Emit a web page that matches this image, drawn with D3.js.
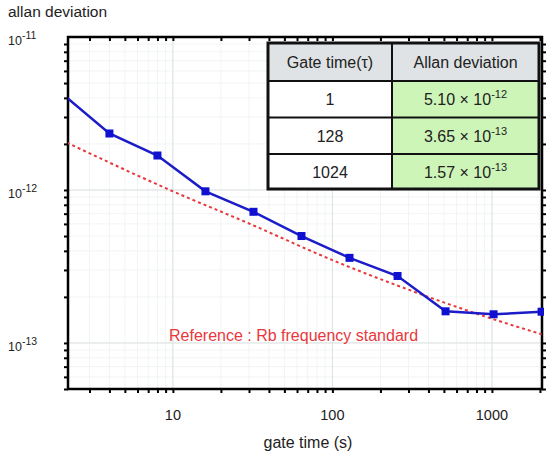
<!DOCTYPE html>
<html>
<head>
<meta charset="utf-8">
<script src="https://cdn.jsdelivr.net/npm/d3@7"></script>
<style>
  body { margin: 0; background: #fff; }
  text { font-family: "Liberation Sans", Arial, sans-serif; }
</style>
</head>
<body>
<div id="chart"></div>
<script>
// measured allan deviation (gate time in s)
var gateTimes = [2, 4, 8, 16, 32, 64, 128, 256, 512, 1024, 2048];
var allanDev = [4.3e-12, 2.34e-12, 1.68e-12, 9.8e-13, 7.2e-13, 5.0e-13, 3.6e-13, 2.74e-13, 1.61e-13, 1.54e-13, 1.60e-13];

// Rb reference curve
var refTimes = [2, 10, 30, 100, 300, 1000, 2048];
var refDev = [2.12e-12, 9.8e-13, 6.04e-13, 3.48e-13, 2.23e-13, 1.44e-13, 1.14e-13];

// table contents
var tableHeader = ["Gate time(\u03c4)", "Allan deviation"];
var tableTau = ["1", "128", "1024"];
var tableMant = ["5.10", "3.65", "1.57"];
var tableExp = ["-12", "-13", "-13"];

var xMajor = [10, 100, 1000];
var yMajor = [1e-11, 1e-12, 1e-13];
var yExpLabels = ["-11", "-12", "-13"];

var width = 546, height = 457;
var pL = 68, pR = 542, pT = 37, pB = 389;

var svg = d3.select('#chart').append('svg')
  .attr('width', width).attr('height', height);

var x = d3.scaleLog().domain([2.2, 2060]).range([pL, pR]);
var y = d3.scaleLog().domain([5e-14, 1e-11]).range([pB, pT]);

// minor tick values
var xMinor = [];
[1, 10, 100, 1000].forEach(function(d) {
  for (var k = 1; k < 10; k++) {
    var v = d * k;
    if (v >= 2.2 && v <= 2060) xMinor.push(v);
  }
});
var yMinor = [];
[1e-14, 1e-13, 1e-12].forEach(function(d) {
  for (var k = 1; k < 10; k++) {
    var v = d * k;
    if (v >= 5e-14 && v <= 1e-11) yMinor.push(v);
  }
});

// faint minor grid
var grid = svg.append('g');
grid.selectAll('line.xm').data(xMinor).enter().append('line')
  .attr('x1', x).attr('x2', x).attr('y1', pT).attr('y2', pB)
  .attr('stroke', '#f2f4f4').attr('stroke-width', 1);
grid.selectAll('line.ym').data(yMinor).enter().append('line')
  .attr('y1', y).attr('y2', y).attr('x1', pL).attr('x2', pR)
  .attr('stroke', '#f2f4f4').attr('stroke-width', 1);
// major grid
grid.selectAll('line.xg').data(xMajor).enter().append('line')
  .attr('x1', x).attr('x2', x).attr('y1', pT).attr('y2', pB)
  .attr('stroke', '#dde2e2').attr('stroke-width', 1);
grid.selectAll('line.yg').data(yMajor.slice(1)).enter().append('line')
  .attr('y1', y).attr('y2', y).attr('x1', pL).attr('x2', pR)
  .attr('stroke', '#dde2e2').attr('stroke-width', 1);

// axes with minor ticks
var tickFmt = function() { return ''; };
function styleAxis(g) {
  g.select('.domain').remove();
  g.selectAll('line').attr('stroke-width', 2);
}
svg.append('g').attr('transform', 'translate(0,' + pB + ')')
  .call(d3.axisBottom(x).tickValues(xMinor).tickSize(4).tickFormat(tickFmt)).call(styleAxis);
svg.append('g').attr('transform', 'translate(0,' + pT + ')')
  .call(d3.axisBottom(x).tickValues(xMinor).tickSize(4).tickFormat(tickFmt)).call(styleAxis);
svg.append('g').attr('transform', 'translate(' + pL + ',0)')
  .call(d3.axisLeft(y).tickValues(yMinor).tickSize(4).tickFormat(tickFmt)).call(styleAxis);
svg.append('g').attr('transform', 'translate(' + pR + ',0)')
  .call(d3.axisRight(y).tickValues(yMinor).tickSize(4).tickFormat(tickFmt)).call(styleAxis);

// frame
svg.append('rect').attr('x', pL).attr('y', pT)
  .attr('width', pR - pL).attr('height', pB - pT)
  .attr('fill', 'none').attr('stroke', '#000').attr('stroke-width', 2.5);

// clip
svg.append('clipPath').attr('id', 'clip').append('rect')
  .attr('x', pL).attr('y', pT).attr('width', pR - pL + 2).attr('height', pB - pT);

var plot = svg.append('g').attr('clip-path', 'url(#clip)');

// reference curve
plot.append('path')
  .datum(refTimes.map(function(t, i) { return [t, refDev[i]]; }))
  .attr('d', d3.line().curve(d3.curveMonotoneX)
    .x(function(d) { return x(d[0]); }).y(function(d) { return y(d[1]); }))
  .attr('fill', 'none').attr('stroke', '#e8383d').attr('stroke-width', 2)
  .attr('stroke-dasharray', '3,3');

// measured line
var meas = gateTimes.map(function(t, i) { return [t, allanDev[i]]; });
plot.append('path')
  .datum(meas)
  .attr('d', d3.line().x(function(d) { return x(d[0]); }).y(function(d) { return y(d[1]); }))
  .attr('fill', 'none').attr('stroke', '#1c1cc8').attr('stroke-width', 2.5);
plot.selectAll('rect.pt').data(meas).enter().append('rect')
  .attr('class', 'pt')
  .attr('x', function(d) { return x(d[0]) - 4; })
  .attr('y', function(d) { return y(d[1]) - 4; })
  .attr('width', 8).attr('height', 8)
  .attr('fill', '#1010d0');

// axis labels
svg.selectAll('text.xl').data(xMajor).enter().append('text')
  .attr('x', x).attr('y', 420).attr('text-anchor', 'middle')
  .attr('font-size', 14.5).attr('fill', '#222').text(function(d) { return d; });

var yl = svg.selectAll('text.yl').data(yMajor).enter().append('text')
  .attr('x', 8).attr('y', function(d) { return y(d) + 8; })
  .attr('font-size', 12.5).attr('fill', '#222');
yl.append('tspan').text('10');
yl.append('tspan').attr('dy', -6).attr('font-size', 10.5)
  .text(function(d, i) { return yExpLabels[i]; });

svg.append('text').attr('x', 8).attr('y', 17).attr('font-size', 15.5)
  .attr('fill', '#222').text('allan deviation');
svg.append('text').attr('x', 308).attr('y', 448).attr('text-anchor', 'middle')
  .attr('font-size', 16).attr('fill', '#222').text('gate time (s)');

svg.append('text').attr('x', 169).attr('y', 341).attr('font-size', 16)
  .attr('fill', '#e8383d').text('Reference : Rb frequency standard');

// table
var tx = 268, tw1 = 124, tw2 = 147, ty = 43, rh = [38, 36.5, 36.5, 35];
var rowY = [ty];
rh.forEach(function(h, i) { rowY.push(rowY[i] + h); });
var table = svg.append('g');
table.append('rect').attr('x', tx).attr('y', ty).attr('width', tw1 + tw2).attr('height', rh[0])
  .attr('fill', '#dfe3e5');
table.selectAll('rect.w').data(tableTau).enter().append('rect')
  .attr('x', tx).attr('y', function(d, i) { return rowY[i + 1]; })
  .attr('width', tw1).attr('height', function(d, i) { return rh[i + 1]; })
  .attr('fill', '#fff');
table.selectAll('rect.g').data(tableMant).enter().append('rect')
  .attr('x', tx + tw1).attr('y', function(d, i) { return rowY[i + 1]; })
  .attr('width', tw2).attr('height', function(d, i) { return rh[i + 1]; })
  .attr('fill', '#cdf5b8');
// inner lines
table.selectAll('line.r').data(rowY.slice(1, 4)).enter().append('line')
  .attr('x1', tx).attr('x2', tx + tw1 + tw2).attr('y1', function(d) { return d; }).attr('y2', function(d) { return d; })
  .attr('stroke', '#111').attr('stroke-width', 2);
table.append('line').attr('x1', tx + tw1).attr('x2', tx + tw1).attr('y1', ty).attr('y2', rowY[4])
  .attr('stroke', '#111').attr('stroke-width', 2);
table.append('rect').attr('x', tx).attr('y', ty).attr('width', tw1 + tw2).attr('height', rowY[4] - ty)
  .attr('fill', 'none').attr('stroke', '#111').attr('stroke-width', 3);

table.selectAll('text.h').data(tableHeader).enter().append('text')
  .attr('x', function(d, i) { return i === 0 ? tx + tw1 / 2 : tx + tw1 + tw2 / 2; })
  .attr('y', ty + rh[0] / 2 + 6).attr('text-anchor', 'middle')
  .attr('font-size', 16).attr('fill', '#222').text(function(d) { return d; });
table.selectAll('text.t').data(tableTau).enter().append('text')
  .attr('x', tx + tw1 / 2).attr('y', function(d, i) { return rowY[i + 1] + rh[i + 1] / 2 + 6; })
  .attr('text-anchor', 'middle').attr('font-size', 16).attr('fill', '#222')
  .text(function(d) { return d; });
var vt = table.selectAll('text.v').data(tableMant).enter().append('text')
  .attr('x', tx + tw1 + tw2 / 2).attr('y', function(d, i) { return rowY[i + 1] + rh[i + 1] / 2 + 6; })
  .attr('text-anchor', 'middle').attr('font-size', 16).attr('fill', '#222');
vt.append('tspan').text(function(d) { return d + ' \u00d7 10'; });
vt.append('tspan').attr('dy', -7).attr('font-size', 11).text(function(d, i) { return tableExp[i]; });
</script>
</body>
</html>
